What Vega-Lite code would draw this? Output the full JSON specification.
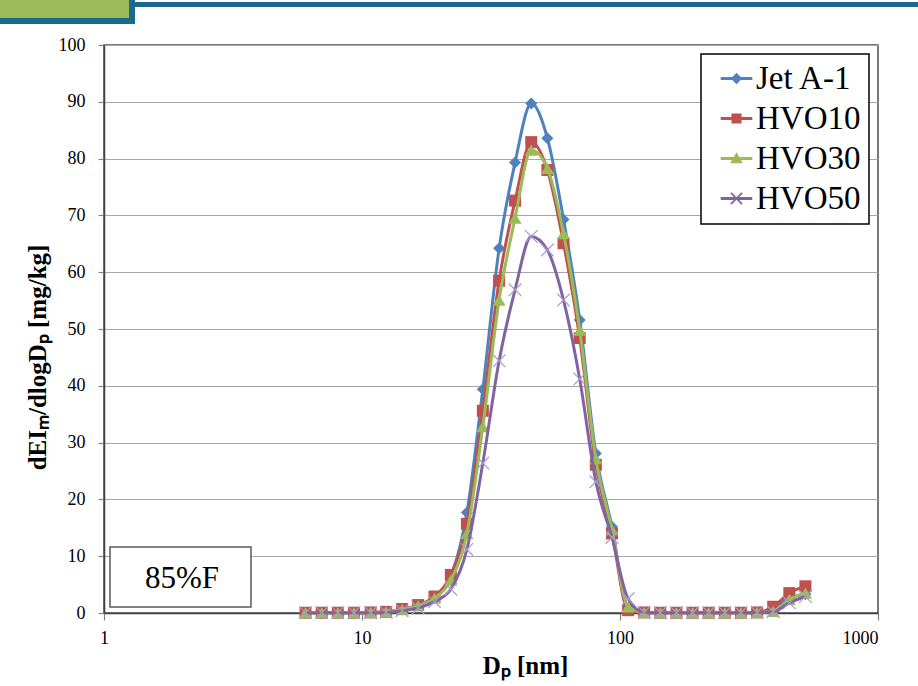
{
  "$schema": "https://vega.github.io/schema/vega-lite/v6.json",
  "width": 774,
  "height": 568,
  "autosize": {"type": "none"},
  "padding": {"left": 104, "top": 45, "right": 40, "bottom": 73},
  "background": "white",
  "config": {
    "view": {"stroke": "#4d4d4d", "strokeWidth": 1.5},
    "axis": {
      "domainColor": "#404040",
      "domainWidth": 1.5,
      "tickColor": "#808080",
      "tickWidth": 1.2,
      "labelFont": "Liberation Serif",
      "labelFontSize": 18,
      "labelColor": "black",
      "titleFont": "Liberation Serif",
      "titleFontSize": 25,
      "titleFontWeight": "bold",
      "titleColor": "black"
    },
    "legend": {
      "orient": "top-right",
      "offset": 9,
      "padding": 8,
      "strokeColor": "black",
      "strokeWidth": 1.5,
      "fillColor": "white",
      "labelFont": "Liberation Serif",
      "labelFontSize": 33,
      "labelColor": "black",
      "symbolSize": 1000,
      "symbolStrokeWidth": 0,
      "symbolOpacity": 1,
      "rowPadding": 6,
      "labelOffset": 3,
      "symbolOffset": 11
    }
  },
  "data": {
    "values": [
      {"series": "Jet A-1", "dp": 6.04, "v": 0.05}, {"series": "Jet A-1", "dp": 6.98, "v": 0.05}, {"series": "Jet A-1", "dp": 8.06, "v": 0.05}, {"series": "Jet A-1", "dp": 9.31, "v": 0.05},
      {"series": "Jet A-1", "dp": 10.8, "v": 0.1}, {"series": "Jet A-1", "dp": 12.4, "v": 0.2}, {"series": "Jet A-1", "dp": 14.3, "v": 0.6}, {"series": "Jet A-1", "dp": 16.5, "v": 1.3},
      {"series": "Jet A-1", "dp": 19.1, "v": 2.8}, {"series": "Jet A-1", "dp": 22.1, "v": 6.5}, {"series": "Jet A-1", "dp": 25.5, "v": 17.7}, {"series": "Jet A-1", "dp": 29.4, "v": 39.4},
      {"series": "Jet A-1", "dp": 34.0, "v": 64.2}, {"series": "Jet A-1", "dp": 39.2, "v": 79.3}, {"series": "Jet A-1", "dp": 45.3, "v": 89.7}, {"series": "Jet A-1", "dp": 52.3, "v": 83.6},
      {"series": "Jet A-1", "dp": 60.4, "v": 69.3}, {"series": "Jet A-1", "dp": 69.8, "v": 51.6}, {"series": "Jet A-1", "dp": 80.6, "v": 28.1}, {"series": "Jet A-1", "dp": 93.1, "v": 15.2},
      {"series": "Jet A-1", "dp": 107.5, "v": 0.6}, {"series": "Jet A-1", "dp": 124.1, "v": 0.1}, {"series": "Jet A-1", "dp": 143.3, "v": 0.05}, {"series": "Jet A-1", "dp": 165.5, "v": 0.05},
      {"series": "Jet A-1", "dp": 191.1, "v": 0.05}, {"series": "Jet A-1", "dp": 220.7, "v": 0.05}, {"series": "Jet A-1", "dp": 254.8, "v": 0.05}, {"series": "Jet A-1", "dp": 294.3, "v": 0.05},
      {"series": "Jet A-1", "dp": 339.8, "v": 0.1}, {"series": "Jet A-1", "dp": 392.4, "v": 0.8}, {"series": "Jet A-1", "dp": 453.2, "v": 2.6}, {"series": "Jet A-1", "dp": 523.3, "v": 3.3},

      {"series": "HVO10", "dp": 6.04, "v": 0.05}, {"series": "HVO10", "dp": 6.98, "v": 0.05}, {"series": "HVO10", "dp": 8.06, "v": 0.05}, {"series": "HVO10", "dp": 9.31, "v": 0.05},
      {"series": "HVO10", "dp": 10.8, "v": 0.1}, {"series": "HVO10", "dp": 12.4, "v": 0.2}, {"series": "HVO10", "dp": 14.3, "v": 0.7}, {"series": "HVO10", "dp": 16.5, "v": 1.4},
      {"series": "HVO10", "dp": 19.1, "v": 2.9}, {"series": "HVO10", "dp": 22.1, "v": 6.7}, {"series": "HVO10", "dp": 25.5, "v": 15.7}, {"series": "HVO10", "dp": 29.4, "v": 35.6},
      {"series": "HVO10", "dp": 34.0, "v": 58.5}, {"series": "HVO10", "dp": 39.2, "v": 72.6}, {"series": "HVO10", "dp": 45.3, "v": 82.9}, {"series": "HVO10", "dp": 52.3, "v": 78.0},
      {"series": "HVO10", "dp": 60.4, "v": 65.1}, {"series": "HVO10", "dp": 69.8, "v": 48.4}, {"series": "HVO10", "dp": 80.6, "v": 26.1}, {"series": "HVO10", "dp": 93.1, "v": 14.0},
      {"series": "HVO10", "dp": 107.5, "v": 0.5}, {"series": "HVO10", "dp": 124.1, "v": 0.1}, {"series": "HVO10", "dp": 143.3, "v": 0.05}, {"series": "HVO10", "dp": 165.5, "v": 0.05},
      {"series": "HVO10", "dp": 191.1, "v": 0.05}, {"series": "HVO10", "dp": 220.7, "v": 0.05}, {"series": "HVO10", "dp": 254.8, "v": 0.05}, {"series": "HVO10", "dp": 294.3, "v": 0.05},
      {"series": "HVO10", "dp": 339.8, "v": 0.1}, {"series": "HVO10", "dp": 392.4, "v": 1.1}, {"series": "HVO10", "dp": 453.2, "v": 3.5}, {"series": "HVO10", "dp": 523.3, "v": 4.7},

      {"series": "HVO30", "dp": 6.04, "v": 0.05}, {"series": "HVO30", "dp": 6.98, "v": 0.05}, {"series": "HVO30", "dp": 8.06, "v": 0.05}, {"series": "HVO30", "dp": 9.31, "v": 0.05},
      {"series": "HVO30", "dp": 10.8, "v": 0.1}, {"series": "HVO30", "dp": 12.4, "v": 0.2}, {"series": "HVO30", "dp": 14.3, "v": 0.6}, {"series": "HVO30", "dp": 16.5, "v": 1.3},
      {"series": "HVO30", "dp": 19.1, "v": 2.6}, {"series": "HVO30", "dp": 22.1, "v": 5.8}, {"series": "HVO30", "dp": 25.5, "v": 14.0}, {"series": "HVO30", "dp": 29.4, "v": 32.8},
      {"series": "HVO30", "dp": 34.0, "v": 55.1}, {"series": "HVO30", "dp": 39.2, "v": 69.5}, {"series": "HVO30", "dp": 45.3, "v": 81.5}, {"series": "HVO30", "dp": 52.3, "v": 78.3},
      {"series": "HVO30", "dp": 60.4, "v": 66.8}, {"series": "HVO30", "dp": 69.8, "v": 49.8}, {"series": "HVO30", "dp": 80.6, "v": 27.2}, {"series": "HVO30", "dp": 93.1, "v": 14.7},
      {"series": "HVO30", "dp": 107.5, "v": 1.1}, {"series": "HVO30", "dp": 124.1, "v": 0.1}, {"series": "HVO30", "dp": 143.3, "v": 0.05}, {"series": "HVO30", "dp": 165.5, "v": 0.05},
      {"series": "HVO30", "dp": 191.1, "v": 0.05}, {"series": "HVO30", "dp": 220.7, "v": 0.05}, {"series": "HVO30", "dp": 254.8, "v": 0.05}, {"series": "HVO30", "dp": 294.3, "v": 0.05},
      {"series": "HVO30", "dp": 339.8, "v": 0.1}, {"series": "HVO30", "dp": 392.4, "v": 0.3}, {"series": "HVO30", "dp": 453.2, "v": 2.4}, {"series": "HVO30", "dp": 523.3, "v": 3.5},

      {"series": "HVO50", "dp": 6.04, "v": 0.05}, {"series": "HVO50", "dp": 6.98, "v": 0.05}, {"series": "HVO50", "dp": 8.06, "v": 0.05}, {"series": "HVO50", "dp": 9.31, "v": 0.05},
      {"series": "HVO50", "dp": 10.8, "v": 0.05}, {"series": "HVO50", "dp": 12.4, "v": 0.1}, {"series": "HVO50", "dp": 14.3, "v": 0.4}, {"series": "HVO50", "dp": 16.5, "v": 0.9},
      {"series": "HVO50", "dp": 19.1, "v": 2.0}, {"series": "HVO50", "dp": 22.1, "v": 4.2}, {"series": "HVO50", "dp": 25.5, "v": 11.2}, {"series": "HVO50", "dp": 29.4, "v": 26.4},
      {"series": "HVO50", "dp": 34.0, "v": 44.4}, {"series": "HVO50", "dp": 39.2, "v": 56.9}, {"series": "HVO50", "dp": 45.3, "v": 66.3}, {"series": "HVO50", "dp": 52.3, "v": 63.9},
      {"series": "HVO50", "dp": 60.4, "v": 55.1}, {"series": "HVO50", "dp": 69.8, "v": 41.2}, {"series": "HVO50", "dp": 80.6, "v": 23.1}, {"series": "HVO50", "dp": 93.1, "v": 13.3},
      {"series": "HVO50", "dp": 107.5, "v": 2.5}, {"series": "HVO50", "dp": 124.1, "v": 0.1}, {"series": "HVO50", "dp": 143.3, "v": 0.05}, {"series": "HVO50", "dp": 165.5, "v": 0.05},
      {"series": "HVO50", "dp": 191.1, "v": 0.05}, {"series": "HVO50", "dp": 220.7, "v": 0.05}, {"series": "HVO50", "dp": 254.8, "v": 0.05}, {"series": "HVO50", "dp": 294.3, "v": 0.05},
      {"series": "HVO50", "dp": 339.8, "v": 0.1}, {"series": "HVO50", "dp": 392.4, "v": 0.2}, {"series": "HVO50", "dp": 453.2, "v": 1.8}, {"series": "HVO50", "dp": 523.3, "v": 2.9}
    ]
  },
  "layer": [
    {
      "transform": [{"filter": "datum.series === 'Jet A-1'"}],
      "mark": {"type": "line", "color": "#4f81bd", "strokeWidth": 3, "interpolate": "monotone"},
      "encoding": {
        "x": {
          "field": "dp",
          "type": "quantitative",
          "scale": {"type": "log", "domain": [1, 1000], "nice": false},
          "axis": {
            "values": [1, 10, 100, 1000],
            "format": "d",
            "grid": false,
            "tickSize": 7,
            "labelPadding": 9,
            "labelAlign": {"condition": {"test": "datum.value == 1000", "value": "right"}, "value": "center"},
            "title": "Dₚ [nm]",
            "titleX": 421,
            "titleY": 60,
            "titleAlign": "center",
            "titleBaseline": "alphabetic"
          }
        },
        "y": {
          "field": "v",
          "type": "quantitative",
          "scale": {"domain": [0, 100], "nice": false, "zero": false},
          "axis": {
            "values": [0, 10, 20, 30, 40, 50, 60, 70, 80, 90, 100],
            "grid": true,
            "gridColor": "#a6a6a6",
            "gridWidth": 1.2,
            "tickSize": 6,
            "labelPadding": 13,
            "title": "dEIₘ/dlogDₚ  [mg/kg]",
            "titleX": -59,
            "titleY": 312,
            "titleAngle": -90,
            "titleAlign": "center",
            "titleBaseline": "alphabetic"
          }
        }
      }
    },
    {
      "transform": [{"filter": "datum.series === 'Jet A-1'"}],
      "mark": {"type": "point", "shape": "diamond", "filled": true, "color": "#4f81bd", "size": 144, "opacity": 1},
      "encoding": {
        "x": {"field": "dp", "type": "quantitative", "scale": {"type": "log", "domain": [1, 1000], "nice": false}},
        "y": {"field": "v", "type": "quantitative", "scale": {"domain": [0, 100], "nice": false, "zero": false}}
      }
    },
    {
      "transform": [{"filter": "datum.series === 'HVO10'"}],
      "mark": {"type": "line", "color": "#c0504d", "strokeWidth": 3, "interpolate": "monotone"},
      "encoding": {
        "x": {"field": "dp", "type": "quantitative", "scale": {"type": "log", "domain": [1, 1000], "nice": false}},
        "y": {"field": "v", "type": "quantitative", "scale": {"domain": [0, 100], "nice": false, "zero": false}}
      }
    },
    {
      "transform": [{"filter": "datum.series === 'HVO10'"}],
      "mark": {"type": "point", "shape": "square", "filled": true, "color": "#c0504d", "size": 144, "opacity": 1},
      "encoding": {
        "x": {"field": "dp", "type": "quantitative", "scale": {"type": "log", "domain": [1, 1000], "nice": false}},
        "y": {"field": "v", "type": "quantitative", "scale": {"domain": [0, 100], "nice": false, "zero": false}}
      }
    },
    {
      "transform": [{"filter": "datum.series === 'HVO30'"}],
      "mark": {"type": "line", "color": "#9bbb59", "strokeWidth": 3, "interpolate": "monotone"},
      "encoding": {
        "x": {"field": "dp", "type": "quantitative", "scale": {"type": "log", "domain": [1, 1000], "nice": false}},
        "y": {"field": "v", "type": "quantitative", "scale": {"domain": [0, 100], "nice": false, "zero": false}}
      }
    },
    {
      "transform": [{"filter": "datum.series === 'HVO30'"}],
      "mark": {"type": "point", "shape": "triangle-up", "filled": true, "color": "#9bbb59", "size": 169, "opacity": 1},
      "encoding": {
        "x": {"field": "dp", "type": "quantitative", "scale": {"type": "log", "domain": [1, 1000], "nice": false}},
        "y": {"field": "v", "type": "quantitative", "scale": {"domain": [0, 100], "nice": false, "zero": false}}
      }
    },
    {
      "transform": [{"filter": "datum.series === 'HVO50'"}],
      "mark": {"type": "line", "color": "#8064a2", "strokeWidth": 3, "interpolate": "monotone"},
      "encoding": {
        "x": {"field": "dp", "type": "quantitative", "scale": {"type": "log", "domain": [1, 1000], "nice": false}},
        "y": {"field": "v", "type": "quantitative", "scale": {"domain": [0, 100], "nice": false, "zero": false}}
      }
    },
    {
      "transform": [{"filter": "datum.series === 'HVO50'"}],
      "mark": {"type": "point", "shape": "M-1,-1L1,1M1,-1L-1,1", "filled": false, "stroke": "#a99bcc", "strokeWidth": 1.2, "size": 160, "opacity": 1},
      "encoding": {
        "x": {"field": "dp", "type": "quantitative", "scale": {"type": "log", "domain": [1, 1000], "nice": false}},
        "y": {"field": "v", "type": "quantitative", "scale": {"domain": [0, 100], "nice": false, "zero": false}}
      }
    },
    {
      "mark": {"type": "point", "filled": true, "opacity": 0},
      "encoding": {
        "x": {"field": "dp", "type": "quantitative", "scale": {"type": "log", "domain": [1, 1000], "nice": false}},
        "y": {"field": "v", "type": "quantitative", "scale": {"domain": [0, 100], "nice": false, "zero": false}},
        "fill": {
          "field": "series",
          "type": "nominal",
          "scale": {
            "domain": ["Jet A-1", "HVO10", "HVO30", "HVO50"],
            "range": ["#4f81bd", "#c0504d", "#9bbb59", "#8064a2"]
          },
          "legend": {"title": null, "labelExpr": "datum.label + '   '"}
        },
        "shape": {
          "field": "series",
          "type": "nominal",
          "scale": {
            "domain": ["Jet A-1", "HVO10", "HVO30", "HVO50"],
            "range": [
              "M-1,-0.1H1V0.1H-1Z M0,-0.36L0.36,0L0,0.36L-0.36,0Z",
              "M-1,-0.1H1V0.1H-1Z M-0.32,-0.32H0.32V0.32H-0.32Z",
              "M-1,-0.1H1V0.1H-1Z M0,-0.4L0.4,0.3H-0.4Z",
              "M-1,-0.1H1V0.1H-1Z M-0.39,-0.31L-0.31,-0.39L0.39,0.31L0.31,0.39Z M0.31,-0.39L0.39,-0.31L-0.31,0.39L-0.39,0.31Z"
            ]
          },
          "legend": {"title": null, "labelExpr": "datum.label + '   '"}
        }
      }
    },
    {
      "data": {"values": [{}]},
      "mark": {"type": "rect", "fill": "#9bbb59"},
      "encoding": {
        "x": {"datum": 0.3953, "type": "quantitative"},
        "x2": {"datum": 1.25},
        "y": {"datum": 107.92, "type": "quantitative"},
        "y2": {"datum": 104.75}
      }
    },
    {
      "data": {"values": [{}]},
      "mark": {"type": "rect", "fill": "#1b6a8e"},
      "encoding": {
        "x": {"datum": 0.3953, "type": "quantitative"},
        "x2": {"datum": 1.319},
        "y": {"datum": 104.75, "type": "quantitative"},
        "y2": {"datum": 103.7}
      }
    },
    {
      "data": {"values": [{}]},
      "mark": {"type": "rect", "fill": "#1b6a8e"},
      "encoding": {
        "x": {"datum": 1.25, "type": "quantitative"},
        "x2": {"datum": 1.319},
        "y": {"datum": 107.92, "type": "quantitative"},
        "y2": {"datum": 103.7}
      }
    },
    {
      "data": {"values": [{}]},
      "mark": {"type": "rect", "fill": "#1b6a8e"},
      "encoding": {
        "x": {"datum": 1.319, "type": "quantitative"},
        "x2": {"datum": 1429},
        "y": {"datum": 107.57, "type": "quantitative"},
        "y2": {"datum": 106.69}
      }
    },
    {
      "data": {"values": [{}]},
      "mark": {"type": "rect", "fill": "white", "stroke": "#595959", "strokeWidth": 1.5},
      "encoding": {
        "x": {"datum": 1.055, "type": "quantitative"},
        "x2": {"datum": 3.713},
        "y": {"datum": 11.62, "type": "quantitative"},
        "y2": {"datum": 1.06}
      }
    },
    {
      "data": {"values": [{}]},
      "mark": {"type": "text", "text": "85%F", "font": "Liberation Serif", "fontSize": 31, "color": "black", "align": "center", "baseline": "middle"},
      "encoding": {
        "x": {"datum": 2.006, "type": "quantitative"},
        "y": {"datum": 6.0, "type": "quantitative"}
      }
    }
  ]
}
